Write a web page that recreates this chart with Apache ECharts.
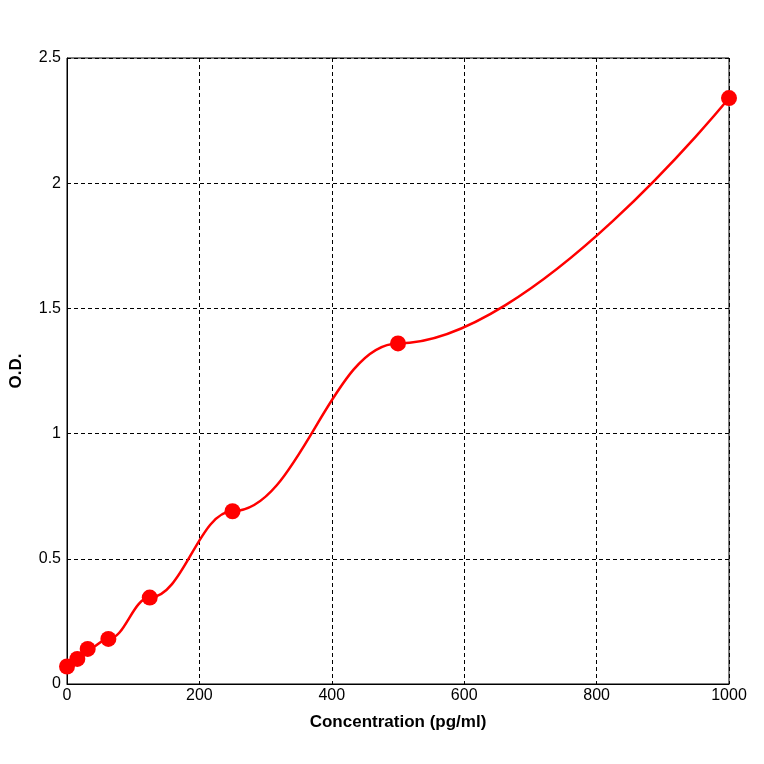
<!DOCTYPE html>
<html><head><meta charset="utf-8">
<script src="https://cdn.jsdelivr.net/npm/echarts@6/dist/echarts.min.js"></script>
<style>html,body{margin:0;padding:0;background:#fff}#c{width:764px;height:764px}</style>
</head><body><div id="c"></div>
<script>
const concentrations = [0, 15.6, 31.25, 62.5, 125, 250, 500, 1000];
const odValues = [0.07, 0.10, 0.14, 0.18, 0.345, 0.69, 1.36, 2.34];
const xTicks = [0, 200, 400, 600, 800, 1000];
const yTicks = [0, 0.5, 1, 1.5, 2, 2.5];

const chart = echarts.init(document.getElementById('c'));
const data = concentrations.map((x, i) => [x, odValues[i]]);
chart.setOption({
  animation: false,
  grid: {left: 62, right: 35, top: 58, bottom: 80, show: true, borderColor: '#000', borderWidth: 1},
  xAxis: {
    type: 'value', min: 0, max: 1000, interval: 200,
    name: 'Concentration (pg/ml)', nameLocation: 'middle', nameGap: 30,
    nameTextStyle: {fontFamily: 'Liberation Sans', fontWeight: 'bold', fontSize: 17, color: '#000'},
    axisLine: {lineStyle: {color: '#000'}}, axisTick: {show: false},
    axisLabel: {fontFamily: 'Liberation Sans', fontSize: 16, color: '#000', margin: 4, formatter: v => String(v)},
    splitLine: {lineStyle: {color: '#000', type: [4, 3]}}
  },
  yAxis: {
    type: 'value', min: 0, max: 2.5, interval: 0.5,
    name: 'O.D.', nameLocation: 'middle', nameGap: 42, nameRotate: 90,
    nameTextStyle: {fontFamily: 'Liberation Sans', fontWeight: 'bold', fontSize: 17, color: '#000'},
    axisLine: {lineStyle: {color: '#000'}}, axisTick: {show: false},
    axisLabel: {fontFamily: 'Liberation Sans', fontSize: 16, color: '#000', margin: 6},
    splitLine: {lineStyle: {color: '#000', type: [4, 3]}}
  },
  series: [{
    type: 'line', data: data, smooth: 0.4, smoothMonotone: 'x',
    lineStyle: {color: '#ff0000', width: 2.5},
    itemStyle: {color: '#ff0000'},
    symbol: 'circle', symbolSize: 16
  }]
});
</script></body></html>
